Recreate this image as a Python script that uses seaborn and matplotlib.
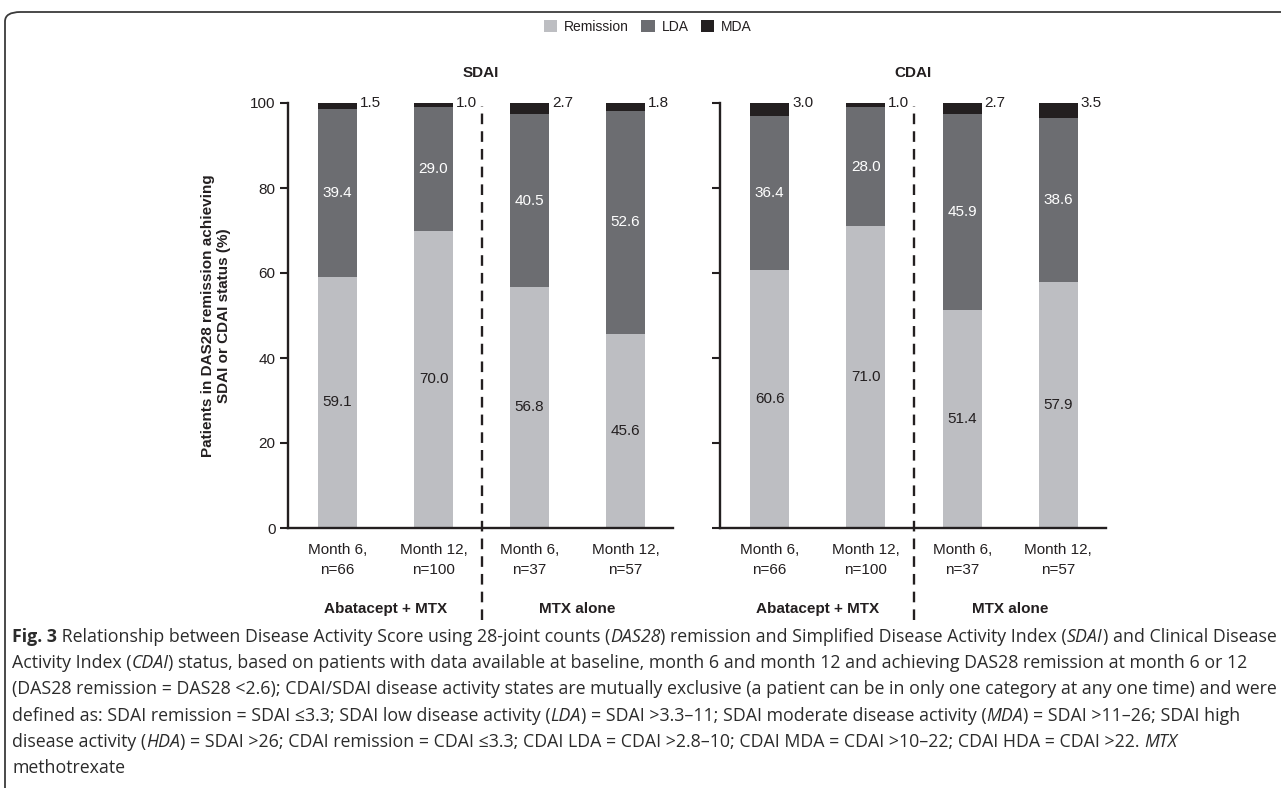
import numpy as np
import pandas as pd
import seaborn as sns
import matplotlib
matplotlib.use("Agg")
import matplotlib.pyplot as plt
from matplotlib.patches import Patch, FancyBboxPatch

# ---- data ----
timepoints = ["Month 6,\nn=66", "Month 12,\nn=100", "Month 6,\nn=37", "Month 12,\nn=57"]
treatment_groups = ["Abatacept + MTX", "MTX alone"]
status_names = ["Remission", "LDA", "MDA"]
sdai_remission = [59.1, 70.0, 56.8, 45.6]
sdai_lda = [39.4, 29.0, 40.5, 52.6]
sdai_mda = [1.5, 1.0, 2.7, 1.8]
cdai_remission = [60.6, 71.0, 51.4, 57.9]
cdai_lda = [36.4, 28.0, 45.9, 38.6]
cdai_mda = [3.0, 1.0, 2.7, 3.5]
y_ticks = [0, 20, 40, 60, 80, 100]

# ---- style ----
C_REM = "#bdbec2"
C_LDA = "#6c6d71"
C_MDA = "#231f20"
INK = "#231f20"
BAR_W = 0.406

sns.set_theme(style="white")
plt.rcParams["font.family"] = ["Liberation Sans", "DejaVu Sans"]
plt.rcParams["text.color"] = INK
plt.rcParams["axes.labelcolor"] = INK
plt.rcParams["xtick.color"] = INK
plt.rcParams["ytick.color"] = INK

W, H = 1281, 788
fig = plt.figure(figsize=(W / 100, H / 100), dpi=100)
fig.patch.set_facecolor("white")


def fx(px):
    return px / W


def fy(py):
    return 1 - py / H


# outer rounded frame
frame = FancyBboxPatch((fx(5), fy(800)), fx(1300), 788 / H,
                       boxstyle="round,pad=0,rounding_size=0.012",
                       transform=fig.transFigure, facecolor="none",
                       edgecolor="#3a3a3a", linewidth=1.3, clip_on=True)
fig.patches.append(frame)

ax_s = fig.add_axes([fx(288), fy(528), (673 - 288) / W, 425 / H])
ax_c = fig.add_axes([fx(720), fy(528), (1106 - 720) / W, 425 / H])


def draw_panel(ax, title, rem, lda, mda, show_labels):
    df = pd.DataFrame({"timepoint": timepoints, "rem": rem, "lda": lda, "mda": mda})
    df["top_lda"] = df["rem"] + df["lda"]
    df["top_mda"] = df["top_lda"] + df["mda"]
    for col, colr in [("top_mda", C_MDA), ("top_lda", C_LDA), ("rem", C_REM)]:
        sns.barplot(data=df, x="timepoint", y=col, color=colr, width=BAR_W,
                    saturation=1, linewidth=0, edgecolor="none", ax=ax,
                    order=timepoints)
    for i, row in df.iterrows():
        ax.text(i, row["rem"] / 2, f"{row['rem']:.1f}", ha="center", va="center",
                fontsize=11, color=INK)
        ax.text(i, row["rem"] + row["lda"] / 2, f"{row['lda']:.1f}", ha="center",
                va="center", fontsize=11, color="white")
        ax.text(i + BAR_W / 2 + 0.03, row["top_mda"], f"{row['mda']:.1f}",
                ha="left", va="center", fontsize=11, color=INK)

    ax.set_xlim(-0.516, 3.495)
    ax.set_ylim(0, 100)
    ax.set_yticks(y_ticks)
    if show_labels:
        ax.set_yticklabels([str(t) for t in y_ticks], fontsize=11)
    else:
        ax.set_yticklabels([])
    ax.set_xticks(range(len(timepoints)))
    ax.set_xticklabels(timepoints, fontsize=11, linespacing=1.55)
    ax.tick_params(axis="x", length=0, pad=11)
    ax.tick_params(axis="y", direction="out", length=6, width=1.5, pad=3, left=True)
    ax.set_xlabel("")
    ax.set_ylabel("")
    for s in ["top", "right"]:
        ax.spines[s].set_visible(False)
    for s in ["left", "bottom"]:
        ax.spines[s].set_linewidth(1.7)
        ax.spines[s].set_color(INK)
    ax.set_facecolor("none")

    # separator between treatment groups
    ax.axvline(1.5, ymin=-0.216, ymax=0.993, color=INK, linewidth=1.7,
               linestyle=(0, (4.5, 3)), clip_on=False)

    # treatment group labels
    for k, g in enumerate(treatment_groups):
        ax.text(2 * k + 0.5, -0.19, g, transform=ax.get_xaxis_transform(),
                ha="center", va="center", fontsize=11, fontweight="bold")

    # panel title
    x0, x1 = ax.get_position().x0, ax.get_position().x1
    fig.text((x0 + x1) / 2, fy(73), title, ha="center", va="center",
             fontsize=11, fontweight="bold")


draw_panel(ax_s, "SDAI", sdai_remission, sdai_lda, sdai_mda, True)
draw_panel(ax_c, "CDAI", cdai_remission, cdai_lda, cdai_mda, False)

ax_s.set_ylabel("Patients in DAS28 remission achieving\nSDAI or CDAI status (%)",
                fontsize=11, fontweight="bold", labelpad=14, linespacing=1.15)

# legend
handles = [Patch(facecolor=c, edgecolor="none", label=n)
           for c, n in zip([C_REM, C_LDA, C_MDA], status_names)]
fig.legend(handles=handles, loc="center", bbox_to_anchor=(fx(648), fy(27)),
           ncol=3, frameon=False, fontsize=10, handlelength=0.95,
           handleheight=0.95, handletextpad=0.5, columnspacing=0.9,
           borderaxespad=0)

# caption
N, I, B = "normal", "italic", "bold"
caption_lines = [
    [("Fig. 3", B), (" Relationship between Disease Activity Score using 28-joint counts (", N),
     ("DAS28", I), (") remission and Simplified Disease Activity Index (", N), ("SDAI", I),
     (") and Clinical Disease", N)],
    [("Activity Index (", N), ("CDAI", I),
     (") status, based on patients with data available at baseline, month 6 and month 12 and achieving DAS28 remission at month 6 or 12", N)],
    [("(DAS28 remission = DAS28 <2.6); CDAI/SDAI disease activity states are mutually exclusive (a patient can be in only one category at any one time) and were", N)],
    [("defined as: SDAI remission = SDAI \u22643.3; SDAI low disease activity (", N), ("LDA", I),
     (") = SDAI >3.3\u201311; SDAI moderate disease activity (", N), ("MDA", I),
     (") = SDAI >11\u201326; SDAI high", N)],
    [("disease activity (", N), ("HDA", I),
     (") = SDAI >26; CDAI remission = CDAI \u22643.3; CDAI LDA = CDAI >2.8\u201310; CDAI MDA = CDAI >10\u201322; CDAI HDA = CDAI >22. ", N),
     ("MTX", I)],
    [("methotrexate", N)],
]
CAP_FAMILY = ["Open Sans", "DejaVu Sans"]
renderer = fig.canvas.get_renderer()


def run_props(style, size):
    return dict(fontsize=size, family=CAP_FAMILY,
                fontweight="bold" if style == B else "normal",
                fontstyle="italic" if style == I else "normal",
                color="#2b2b2b")


def draw_runs(runs, x_px, base_px, size, draw=True):
    x = x_px
    made = []
    for txt, style in runs:
        t = fig.text(fx(x), fy(base_px), txt, ha="left", va="baseline",
                     **run_props(style, size))
        x += t.get_window_extent(renderer).width
        made.append(t)
    if not draw:
        for t in made:
            t.remove()
    return x - x_px


# fit the first caption line to the text block width
probe = draw_runs(caption_lines[0], 12, 641, 11, draw=False)
cap_size = 11 * (1262 / probe)
for k, line in enumerate(caption_lines):
    draw_runs(line, 12, 642 + 26.2 * k, cap_size)

fig.savefig("out.png", dpi=100, facecolor="white")
